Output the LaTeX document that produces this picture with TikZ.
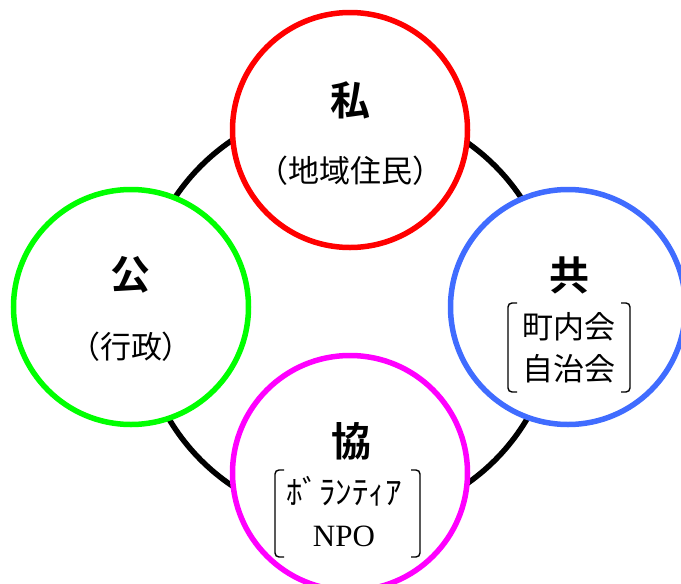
\documentclass[tikz,border=0pt]{standalone}
\usepackage{fontspec}
\setmainfont{Liberation Serif}
\newfontfamily\cjk{Noto Sans CJK JP}
\newfontfamily\cjkb{Noto Sans CJK JP Bold}
\begin{document}
\begin{tikzpicture}[x=1pt,y=-1pt,
  ring/.style={circle,draw,line width=5.5pt,fill=white,minimum size=235pt,inner sep=0},
  head/.style={font=\cjkb\fontsize{40}{40}\selectfont},
  sub/.style={font=\cjk\fontsize{31}{42}\selectfont,align=center},
  brk/.style={line width=1.4pt,rounded corners=4pt}]
\useasboundingbox (0,0) rectangle (681,584);

\node [circle,draw,line width=5.5pt,minimum size=416pt,inner sep=0] (v0) at (348,313) {};

\node [ring,draw=red] (v1) at (350,130) {};
\node [ring,draw={rgb,255:red,0;green,255;blue,0}] (v2) at (131,307) {};
\node [ring,draw={rgb,255:red,64;green,108;blue,255}] (v3) at (568,307) {};
\node [ring,draw={rgb,255:red,255;green,0;blue,255}] (v4) at (350,473) {};

\node [head] (v5) at (350,100) {私};
\node [sub] (v6) at (350,171) {（地域住民）};
\node [head] (v7) at (130,275) {公};
\node [sub] (v8) at (131,347) {（行政）};
\node [head] (v9) at (569,275) {共};
\node [sub] (v10) at (569,348) {町内会\\自治会};
\node [head] (v11) at (351,441) {協};
\node [sub] (v12) at (344,512) {{\fontsize{33}{42}\selectfont ﾎﾞﾗﾝﾃｨｱ}\\{\rmfamily NPO}};

\draw [brk] (517,303) -- (508,303) -- (508,392) -- (517,392);
\draw [brk] (621,303) -- (630,303) -- (630,392) -- (621,392);
\draw [brk] (284,470) -- (275,470) -- (275,557) -- (284,557);
\draw [brk] (411,470) -- (420,470) -- (420,557) -- (411,557);
\end{tikzpicture}
\end{document}
